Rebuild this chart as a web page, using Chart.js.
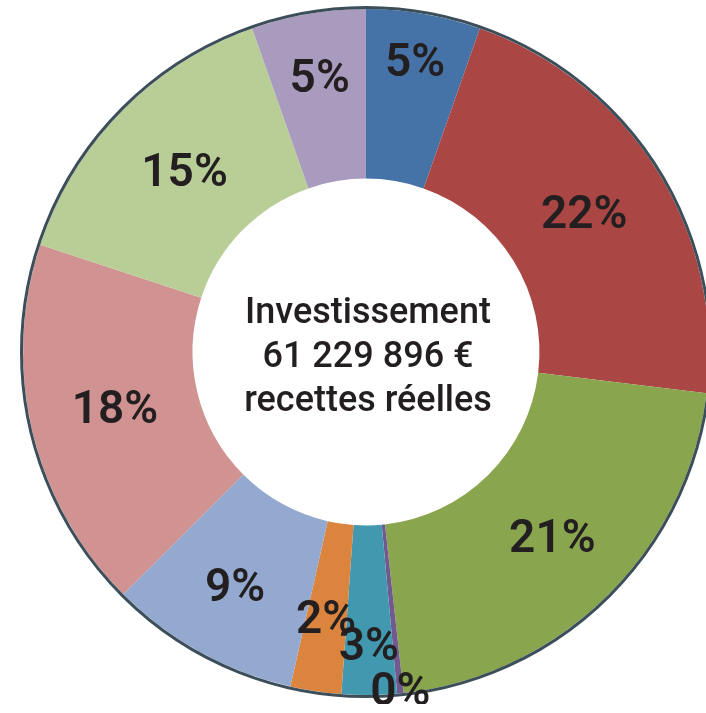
<!DOCTYPE html>
<html lang="fr">
<head>
<meta charset="utf-8">
<title>Investissement – recettes réelles</title>
<script src="https://cdn.jsdelivr.net/npm/chart.js@4.4.1/dist/chart.umd.min.js"></script>
<style>
  html, body { margin: 0; padding: 0; background: #fff; overflow: hidden; }
  #wrap { position: absolute; left: 0; top: 0; width: 732px; height: 704px; }
</style>
</head>
<body>
<div id="wrap"><canvas id="ring" width="732" height="704"></canvas></div>
<script>
'use strict';

/* Répartition des recettes réelles d'investissement (en %), sens horaire depuis midi */
const categories = [
  'Bleu', 'Rouge', 'Vert', 'Violet', 'Turquoise',
  'Orange', 'Bleu clair', 'Rose', 'Vert clair', 'Mauve',
];
const shares = [5.4, 21.6, 21.4, 0.3, 2.6, 2.4, 9.0, 17.6, 14.6, 5.4];

const centerLines = ['Investissement', '61 229 896 €', 'recettes réelles'];

const COLORS = [
  '#4572a7', '#aa4643', '#89a54e', '#71588f', '#4198af',
  '#db843d', '#93a9cf', '#d19392', '#b9cd96', '#a99bbd',
];
// distance from the centre at which each percentage is written
const LABEL_R = [292, 257, 265, 343, 297, 272, 271, 258, 254, 275];

const TEXT = '#231f20';
const FONT = 'Roboto, "Open Sans", sans-serif';

const ringEdge = {
  id: 'ringEdge',
  afterDatasetsDraw(chart) {
    const arc = chart.getDatasetMeta(0).data[0];
    if (!arc) return;
    const ctx = chart.ctx;
    ctx.save();
    ctx.beginPath();
    ctx.arc(arc.x, arc.y, arc.outerRadius + 1.5, 0, Math.PI * 2);
    ctx.lineWidth = 3;
    ctx.strokeStyle = '#3b4e5a';
    ctx.stroke();
    ctx.restore();
  },
};

const ringText = {
  id: 'ringText',
  afterDraw(chart) {
    const ctx = chart.ctx;
    const arcs = chart.getDatasetMeta(0).data;
    ctx.save();
    ctx.fillStyle = TEXT;
    ctx.textAlign = 'center';
    ctx.textBaseline = 'middle';
    ctx.font = `600 46px ${FONT}`;
    arcs.forEach((arc, i) => {
      const mid = (arc.startAngle + arc.endAngle) / 2;
      const x = arc.x + Math.cos(mid) * LABEL_R[i];
      const y = arc.y + Math.sin(mid) * LABEL_R[i];
      ctx.fillText(Math.round(shares[i]) + '%', x, y);
    });

    // centre caption
    const c = arcs[0];
    ctx.textBaseline = 'alphabetic';
    ctx.font = `500 36px ${FONT}`;
    centerLines.forEach((line, i) => {
      ctx.fillText(line, c.x + 2, c.y - 29 + i * 44);
    });
    ctx.restore();
  },
};

new Chart(document.getElementById('ring'), {
  type: 'doughnut',
  data: {
    labels: categories,
    datasets: [{
      data: shares,
      backgroundColor: COLORS,
      borderWidth: 0,
      hoverOffset: 0,
    }],
  },
  options: {
    responsive: false,
    animation: false,
    radius: 343,
    cutout: 178,
    layout: { padding: 0 },
    plugins: {
      legend: { display: false },
      tooltip: { enabled: false },
    },
  },
  plugins: [ringEdge, ringText],
});
</script>
</body>
</html>
